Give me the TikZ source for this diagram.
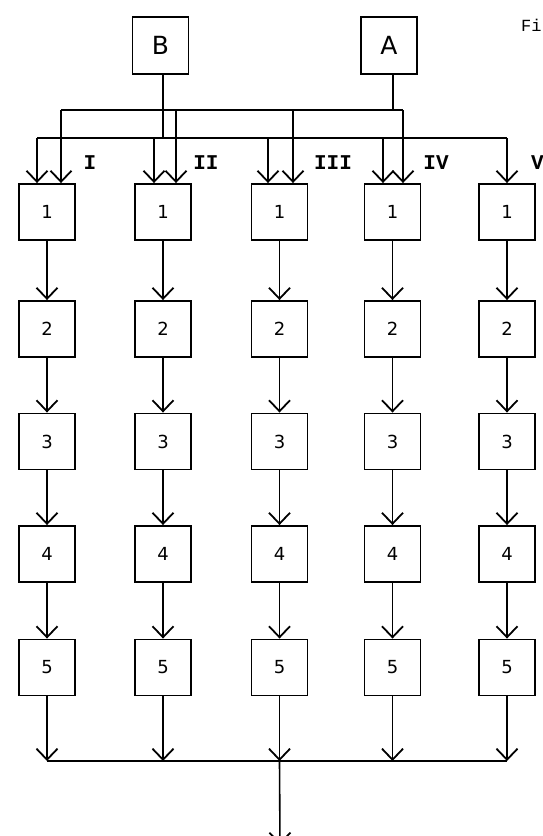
\documentclass[tikz,border=0pt]{standalone}
\usepackage{fontspec}
\newfontfamily\sansf{DejaVu Sans}
\newfontfamily\monof{Liberation Mono}
\usetikzlibrary{arrows.meta}
\begin{document}
\begin{tikzpicture}[x=1pt,y=-1pt,
  box/.style={draw,line width=1.9pt,minimum width=56pt,minimum height=56pt,inner sep=0pt,font=\sansf\fontsize{18}{18}\selectfont},
  topbox/.style={box,minimum width=56pt,minimum height=57pt,font=\sansf\fontsize{25}{25}\selectfont},
  ln/.style={line width=1.6pt},
  arr/.style={ln,-{Straight Barb[length=11pt,width=21pt,line width=1.8pt]}},
  num/.style={font=\monof\bfseries\fontsize{21}{21}\selectfont,inner sep=0pt},
  figtext/.style={font=\monof\fontsize{17}{17}\selectfont,anchor=west,inner sep=0pt}
]
\clip (0,0) rectangle (543,836);
\fill[white] (0,0) rectangle (543,836);

% top sources
\node[topbox] (B) at (160.5,45.5) {B};
\node[topbox] (A) at (389,45.5) {A};

% columns of boxes
\foreach \c/\x in {1/47,2/163,3/279.5,4/392.5,5/507}
  \foreach \r/\y in {1/212,2/329,3/441.5,4/554,5/667.5}
    \node[box] (c\c r\r) at (\x,\y) {\r};

% arrows within columns
\foreach \c in {1,...,5}
  \foreach \r/\s in {1/2,2/3,3/4,4/5}
    \draw[arr] (c\c r\r) -- (c\c r\s);

% stems and buses
\coordinate (bstem) at (163,138);
\coordinate (astem) at (393,110);
\draw[ln] (B.south -| bstem) -- (bstem);
\draw[ln] (A.south -| astem) -- (astem);

\coordinate (u1) at (61,110);
\coordinate (u2) at (176,110);
\coordinate (u3) at (293,110);
\coordinate (u4) at (403,110);
\draw[ln] (u1) -- (u4);

\coordinate (l1) at (37,138);
\coordinate (l2) at (154,138);
\coordinate (l3) at (268,138);
\coordinate (l4) at (383,138);
\coordinate (l5) at (507,138);
\draw[ln] (l1) -- (l5);

\foreach \c in {1,...,4}
  \draw[arr] (u\c) -- (u\c |- c\c r1.north);
\foreach \c in {1,...,5}
  \draw[arr] (l\c) -- (l\c |- c\c r1.north);

% bottom collector
\coordinate (bw) at (47,761);
\coordinate (be) at (507,761);
\draw[ln] (bw) -- (be);
\foreach \c in {1,...,5}
  \draw[arr] (c\c r5) -- (c\c r5 |- bw);
\coordinate (out) at (280,845);
\draw[arr] (c3r5 |- bw) -- (out);

% labels
\node[num] (nI) at (90,163) {I};
\node[num] (nII) at (206,163) {II};
\node[num] (nIII) at (333,163) {III};
\node[num] (nIV) at (436,163) {IV};
\node[num,anchor=west] (nV) at (531,163) {V};
\node[figtext] (fig) at (521,25) {Fi};
\end{tikzpicture}
\end{document}
